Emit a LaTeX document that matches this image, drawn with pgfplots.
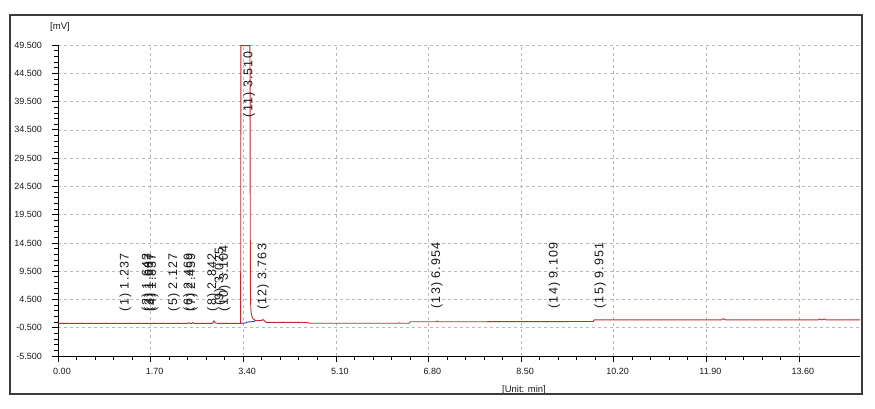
\documentclass[border=0pt]{standalone}
\usepackage{fontspec}
\setmainfont{Liberation Sans}
\newfontfamily\lblfont[LetterSpace=9]{Liberation Sans}
\usepackage{pgfplots}
\pgfplotsset{compat=1.18}
\definecolor{trace}{RGB}{200,40,45}
\definecolor{base}{RGB}{40,50,200}
\definecolor{gridc}{RGB}{185,185,185}
\definecolor{framec}{RGB}{60,60,60}
\begin{document}
\begin{tikzpicture}[x=1pt,y=1pt]
\useasboundingbox (-58,-53) rectangle (817,356);
\begin{axis}[
  at={(0,0)}, anchor=south west,
  scale only axis, width=802pt, height=311pt,
  xmin=0, xmax=14.72, ymin=-5.5, ymax=49.5,
  axis x line*=bottom, axis y line*=left,
  axis line style={-, black, line width=0.9pt},
  xtick={0,1.7,3.4,5.1,6.8,8.5,10.2,11.9,13.6},
  xticklabels={0.00,1.70,3.40,5.10,6.80,8.50,10.20,11.90,13.60},
  ytick={-5.5,-0.5,4.5,9.5,14.5,19.5,24.5,29.5,34.5,39.5,44.5,49.5},
  yticklabels={-5.500,-0.500,4.500,9.500,14.500,19.500,24.500,29.500,34.500,39.500,44.500,49.500},
  minor x tick num=4, minor y tick num=4,
  tick align=outside,
  major tick length=6pt, minor tick length=4pt,
  tick style={black, line width=0.7pt},
  every tick label/.append style={font=\fontsize{9}{10}\selectfont, text=black!90},
  xticklabel style={inner sep=0pt, anchor=north, xshift=4pt, yshift=-6pt},
  yticklabel style={inner sep=0pt, anchor=east, xshift=-10pt},
  grid=major,
  major grid style={gridc, dashed, line width=0.6pt, dash pattern=on 3pt off 3pt},
  clip=true,
]
\addplot[trace, line width=0.9pt] coordinates {
(0,0.28) (2.38,0.28) (2.40,0.38) (2.42,0.28) (2.46,0.28) (2.47,0.38) (2.49,0.28)
(2.84,0.28) (2.86,0.7) (2.88,0.5) (2.90,0.35) (2.93,0.28) (3.352,0.28)
(3.354,14.5) (3.356,49.4) (3.522,49.4) (3.525,45) (3.528,20) (3.532,6)
(3.538,3) (3.548,2.0) (3.56,1.5) (3.58,1.1) (3.62,0.8) (3.70,0.75) (3.74,0.8)
(3.76,0.95) (3.78,0.8) (3.82,0.45) (4.59,0.43) (4.60,0.30) (6.24,0.30) (6.26,0.36)
(6.28,0.30) (6.44,0.30) (6.47,0.55) (6.95,0.55) (6.96,0.7) (6.98,0.55) (9.82,0.6)
(9.84,0.88) (12.18,0.88) (12.21,1.1) (12.26,0.88) (13.95,0.88) (13.98,1.05)
(14.02,0.88) (14.07,1.05) (14.10,0.88) (14.72,0.88)
};
\addplot[base, line width=0.9pt] coordinates {
(3.36,0.28) (3.45,0.35) (3.47,0.5) (3.60,0.6) (3.62,0.75)
};
\begin{scope}[every node/.style={font=\lblfont\fontsize{12.5}{13}\selectfont, text=black!90, inner sep=0pt}]
\node[rotate=90, anchor=west] at (axis cs:1.237,2.4) {(1) 1.237};
\node[rotate=90, anchor=west] at (axis cs:1.642,2.4) {(2) 1.642};
\node[rotate=90, anchor=west] at (axis cs:1.687,2.4) {(3) 1.687};
\node[rotate=90, anchor=west] at (axis cs:1.737,2.4) {(4) 1.837};
\node[rotate=90, anchor=west] at (axis cs:2.127,2.4) {(5) 2.127};
\node[rotate=90, anchor=west] at (axis cs:2.405,2.4) {(6) 2.469};
\node[rotate=90, anchor=west] at (axis cs:2.459,2.4) {(7) 2.459};
\node[rotate=90, anchor=west] at (axis cs:2.842,2.4) {(8) 2.842};
\node[rotate=90, anchor=west] at (axis cs:2.975,3.4) {(9) 3.025};
\node[rotate=90, anchor=west] at (axis cs:3.060,2.4) {(10) 3.104};
\node[rotate=90, anchor=east] at (axis cs:3.510,48.3) {(11) 3.510};
\node[rotate=90, anchor=west] at (axis cs:3.763,2.6) {(12) 3.763};
\node[rotate=90, anchor=west] at (axis cs:6.954,2.9) {(13) 6.954};
\node[rotate=90, anchor=west] at (axis cs:9.109,2.9) {(14) 9.109};
\node[rotate=90, anchor=west] at (axis cs:9.951,2.9) {(15) 9.951};
\end{scope}
\end{axis}
\node[font=\fontsize{9.5}{11}\selectfont, text=black!90] at (2,329) {[mV]};
\node[font=\fontsize{9.5}{11}\selectfont, text=black!90] at (466,-34) {[Unit: min]};
\draw[framec, line width=1.2pt] (-48,-38) rectangle (804,341);
\end{tikzpicture}
\end{document}
